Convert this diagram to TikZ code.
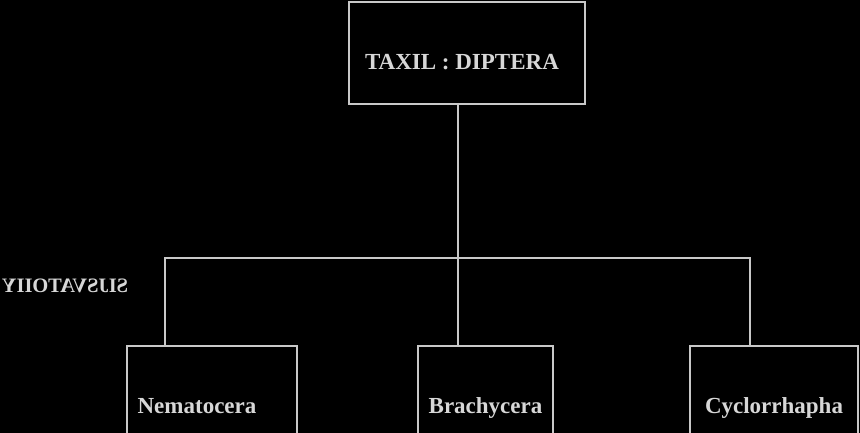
\documentclass[tikz,border=0pt]{standalone}
\usepackage{fontspec}
\setmainfont{Liberation Serif}
\usepackage{tikz}
\usetikzlibrary{calc, positioning}
\definecolor{linegray}{RGB}{200, 200, 200}
\definecolor{textgray}{RGB}{215, 215, 215}
\tikzset{
    boxnode/.style = {draw=linegray, line width=1.6pt, rectangle, inner sep = 0em, anchor=north,
      text=textgray, font=\fontsize{23}{26}\selectfont\bfseries},
    textnode/.style  = {draw=none, fill=none, rectangle, inner sep = 0em, text=textgray,
      font=\fontsize{20.5}{24}\selectfont\bfseries},
    connect/.style = {linegray, line width=1.6pt}
}

\begin{document}
\begin{tikzpicture}[x=1pt, y=-1pt]
    \fill[black] (0,0) rectangle (860,433);
    \useasboundingbox (0,0) rectangle (860,433);

    \node [name = dip, boxnode, minimum width=236pt, text height=68pt, text depth=34pt] at (467,1) {TAXIL : DIPTERA\hspace*{10pt}};
    \node [name = nem, boxnode, minimum width=170pt, text height=68pt, text depth=30pt] at (212,345) {Nematocera\hspace*{30pt}};
    \node [name = bra, boxnode, minimum width=135pt, text height=68pt, text depth=30pt] at (485.5,345) {Brachycera};
    \node [name = cyc, boxnode, minimum width=168pt, text height=68pt, text depth=30pt] at (774,345) {Cyclorrhapha};
    \node [name = sub, textnode, xscale=-1] at (65,286) {SIJSVATOIIY};

    % branch points
    \coordinate (top) at (458,103);
    \coordinate (mid) at (458,258);
    \coordinate (lft) at (165,258);
    \coordinate (rgt) at (750,258);

    \draw [connect] (top) -- (mid) -- (mid |- bra.north);
    \draw [connect] (lft |- nem.north) -- (lft) -- (rgt) -- (rgt |- cyc.north);
\end{tikzpicture}
\end{document}
